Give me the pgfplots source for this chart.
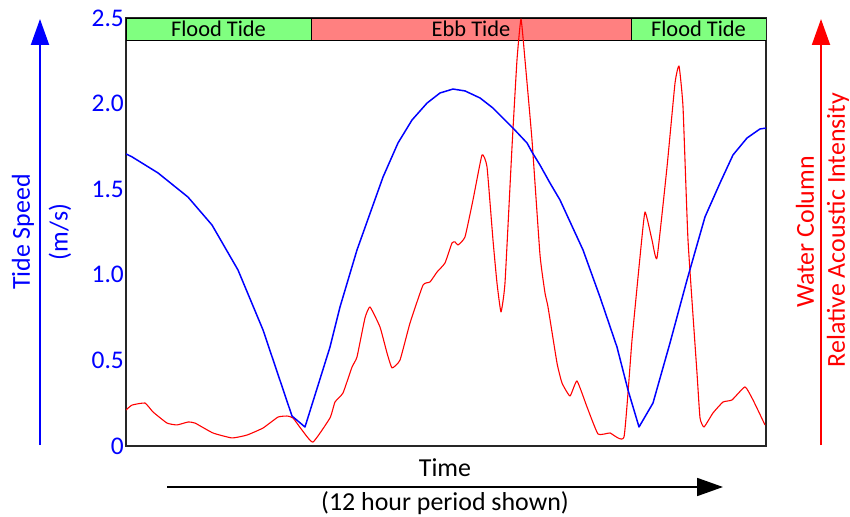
\documentclass[border=0pt]{standalone}
\usepackage{fontspec}
\setmainfont{Carlito}
\usepackage{pgfplots}
\usepackage{pgfplotstable}
\pgfplotsset{compat=1.18}
\usetikzlibrary{arrows.meta}

% tide speed (m/s) vs time (h)
\pgfplotstableread{
h v
0 1.706
0.107 1.690
0.6 1.595
1.1625 1.454
1.6125 1.291
2.1 1.028
2.569 0.678
3.1125 0.175
3.356 0.111
3.825 0.578
4.0125 0.812
4.331 1.145
4.819 1.571
5.1 1.770
5.3625 1.904
5.644 2.003
5.8875 2.062
6.131 2.085
6.356 2.074
6.6375 2.033
6.881 1.974
7.256 1.857
7.519 1.770
7.6125 1.717
7.7625 1.641
7.95 1.536
8.1375 1.437
8.569 1.145
8.8875 0.870
9.206 0.578
9.4125 0.327
9.619 0.111
9.881 0.251
10.2 0.602
10.519 0.970
10.856 1.338
11.1375 1.536
11.381 1.700
11.644 1.799
11.8875 1.852
12 1.857
}\speed

% relative acoustic intensity (same vertical scale, no units)
\pgfplotstableread{
h v
0 0.210
0.1125 0.239
0.356 0.251
0.506 0.199
0.769 0.134
0.956 0.123
1.1625 0.140
1.294 0.134
1.631 0.076
1.9875 0.047
2.269 0.064
2.569 0.105
2.85 0.169
3.019 0.175
3.131 0.164
3.3 0.093
3.506 0.023
3.825 0.164
3.919 0.257
4.069 0.310
4.2375 0.461
4.331 0.520
4.481 0.748
4.575 0.812
4.7625 0.695
4.894 0.543
4.9875 0.456
5.1375 0.502
5.325 0.718
5.569 0.940
5.7 0.958
5.831 1.016
5.981 1.069
6.1125 1.186
6.169 1.192
6.225 1.174
6.356 1.221
6.506 1.437
6.675 1.700
6.769 1.630
6.881 1.203
6.956 0.952
7.031 0.783
7.106 0.952
7.2375 1.746
7.331 2.255
7.406 2.494
7.481 2.255
7.6125 1.787
7.7625 1.116
7.856 0.894
7.9125 0.812
8.081 0.485
8.175 0.368
8.325 0.292
8.456 0.380
8.644 0.228
8.85 0.070
9.075 0.076
9.3375 0.053
9.4875 0.619
9.6375 1.104
9.731 1.367
9.8625 1.203
9.956 1.098
10.144 1.630
10.294 2.120
10.369 2.220
10.444 1.980
10.5375 1.203
10.706 0.426
10.7625 0.164
10.8375 0.111
11.006 0.193
11.194 0.257
11.3625 0.269
11.606 0.345
11.756 0.269
11.981 0.123
}\intensity

\definecolor{floodgreen}{RGB}{128,255,128}
\definecolor{ebbred}{RGB}{255,128,128}

\begin{document}
\begin{tikzpicture}
\begin{axis}[
    at={(0,0)}, anchor=south west,
    scale only axis, width=640bp, height=428bp,
    xmin=0, xmax=12, ymin=0, ymax=2.5,
    xtick=\empty,
    ytick={0,0.5,1,1.5,2,2.5},
    yticklabels={0,0.5,1.0,1.5,2.0,2.5},
    yticklabel style={font=\fontsize{25.5}{27}\selectfont, text=blue, inner sep=2pt},
    major tick length=0pt,
    axis line style={line width=1.2pt, black!85},
]
% tide bands
\draw[fill=floodgreen, line width=0.8pt] (0,2.371) rectangle (3.469,2.5);
\draw[fill=ebbred, line width=0.8pt] (3.469,2.371) rectangle (9.469,2.5);
\draw[fill=floodgreen, line width=0.8pt] (9.469,2.371) rectangle (12,2.5);
\node[font=\fontsize{22.5}{24}\selectfont] at (1.734,2.4355) {Flood Tide};
\node[font=\fontsize{22.5}{24}\selectfont] at (6.469,2.4355) {Ebb Tide};
\node[font=\fontsize{22.5}{24}\selectfont] at (10.734,2.4355) {Flood Tide};

\addplot[red, line width=1.1pt, line join=round, smooth, tension=0.25] table[x=h, y=v] {\intensity};
\addplot[blue, line width=1.5pt, line join=round] table[x=h, y=v] {\speed};
\end{axis}

% left axis arrow and label
\draw[blue, line width=2pt, -{Triangle[width=18bp, length=26bp]}] (-86bp,1bp) -- (-86bp,427bp);
\node[blue, rotate=90, font=\fontsize{26}{28}\selectfont] at (-103bp,214bp) {Tide Speed};
\node[blue, rotate=90, font=\fontsize{26}{28}\selectfont] at (-66bp,214bp) {(m/s)};

% right axis arrow and label
\draw[red, line width=2pt, -{Triangle[width=18bp, length=26bp]}] (695bp,1bp) -- (695bp,427bp);
\node[red, rotate=90, font=\fontsize{26}{28}\selectfont] at (679bp,214bp) {Water Column};
\node[red, rotate=90, font=\fontsize{26}{28}\selectfont] at (712bp,216bp) {Relative Acoustic Intensity};

% time arrow and labels
\draw[black, line width=1.8pt, -{Triangle[width=18bp, length=26bp]}] (41bp,-41bp) -- (597bp,-41bp);
\node[font=\fontsize{26}{28}\selectfont] at (319bp,-22bp) {Time};
\node[font=\fontsize{26}{28}\selectfont] at (319bp,-57bp) {(12 hour period shown)};

\pgfresetboundingbox
\path (-126bp,-71bp) rectangle (724bp,446bp);
\end{tikzpicture}
\end{document}
